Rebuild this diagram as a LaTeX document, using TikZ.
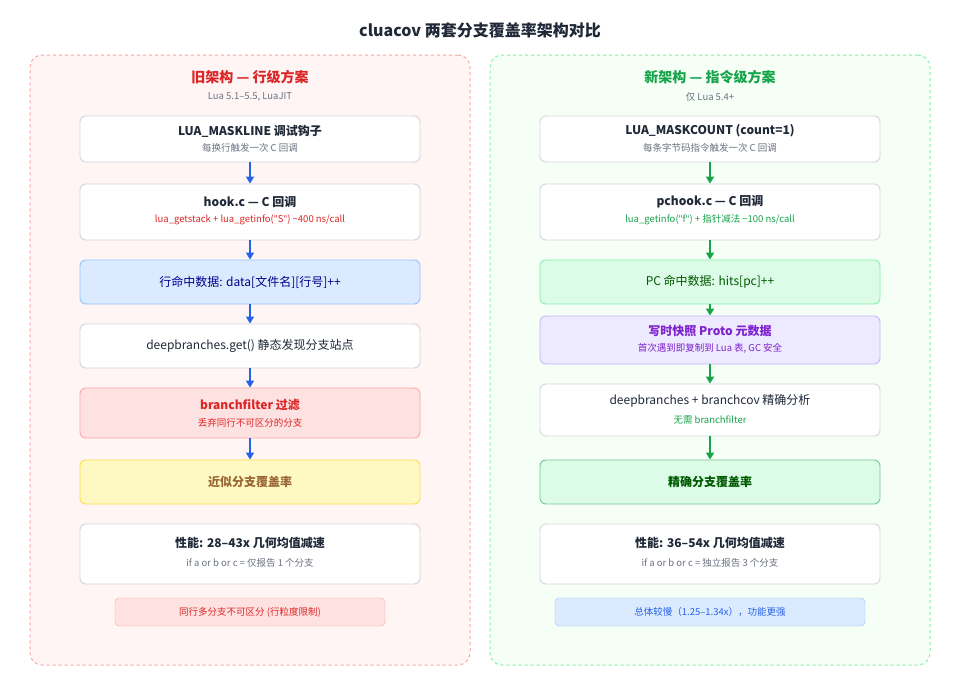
\documentclass[tikz,border=0pt]{standalone}
\usepackage{fontspec}
\setmainfont{Noto Sans CJK SC}
\newfontfamily\lat{Noto Sans}
\usetikzlibrary{arrows.meta}
\definecolor{redL}{HTML}{DC2626}
\definecolor{grnL}{HTML}{16A34A}
\definecolor{bluL}{HTML}{2563EB}
\definecolor{gry}{HTML}{6B7280}
\definecolor{txt}{HTML}{1F2937}
\definecolor{bluF}{HTML}{DBEAFE}\definecolor{bluD}{HTML}{93C5FD}
\definecolor{grnF}{HTML}{DCFCE7}\definecolor{grnD}{HTML}{86EFAC}
\definecolor{vioF}{HTML}{EDE9FE}\definecolor{vioD}{HTML}{C4B5FD}\definecolor{vioT}{HTML}{7E22CE}
\definecolor{redF}{HTML}{FEE2E2}\definecolor{redD}{HTML}{FCA5A5}
\definecolor{yelF}{HTML}{FEF9C3}\definecolor{yelD}{HTML}{FDE047}
\definecolor{bordG}{HTML}{D1D5DB}
\tikzset{
 box/.style={draw=#1,rounded corners=6pt,line width=0.9pt,minimum width=340pt,align=center,inner sep=0pt},
 box/.default={bordG},
 pan/.style={rounded corners=12pt,dashed,line width=1pt,minimum width=440pt,minimum height=610pt},
 arr/.style={-{Triangle[length=7pt,width=8pt]},line width=1.6pt,#1},
 t1/.style={font=\fontsize{12}{14}\selectfont\bfseries,text=txt},
 t2/.style={font=\fontsize{9.5}{12}\selectfont},
}
\begin{document}
\begin{tikzpicture}[x=1pt,y=-1pt]
\useasboundingbox[fill=white] (0,0) rectangle (960,680);
\node[font=\fontsize{16}{18}\selectfont\bfseries,text=txt] (title) at (480,30) {cluacov 两套分支覆盖率架构对比};
% panels
\node[pan,draw=redD,fill=red!4] (L) at (250,360) {};
\node[pan,draw=grnD,fill=green!4] (R) at (710,360) {};
\node[font=\fontsize{14}{16}\selectfont\bfseries,text=redL] (lt) at (250,77) {旧架构 — 行级方案};
\node[t2,text=gry] (ls) at (250,97) {Lua 5.1–5.5, LuaJIT};
\node[font=\fontsize{14}{16}\selectfont\bfseries,text=grnL] (rt) at (710,77) {新架构 — 指令级方案};
\node[t2,text=gry] (rs) at (710,97) {仅 Lua 5.4+};
% left
\node[box,fill=white,minimum height=46pt] (l1) at (250,139) {};
\node[t1] at (250,131) {LUA\_MASKLINE 调试钩子};
\node[t2,text=gry] at (250,148) {每换行触发一次 C 回调};
\node[box,fill=white,minimum height=56pt] (l2) at (250,212) {};
\node[t1] at (250,202) {hook.c — C 回调};
\node[t2,text=redL] at (250,220) {lua\_getstack + lua\_getinfo({\lat"}S{\lat"}) \textasciitilde400 ns/call};
\node[box=bluD,fill=bluF,minimum height=44pt,font=\fontsize{12}{14}\selectfont,text=blue!55!black] (l3) at (250,282) {行命中数据: data[文件名][行号]++};
\node[box,fill=white,minimum height=44pt,font=\fontsize{12}{14}\selectfont,text=txt] (l4) at (250,346) {deepbranches.get() 静态发现分支站点};
\node[box=redD,fill=redF,minimum height=50pt] (l5) at (250,413) {};
\node[t1,text=redL] at (250,405) {branchfilter 过滤};
\node[t2,text=redL] at (250,423) {丢弃同行不可区分的分支};
\node[box=yelD,fill=yelF,minimum height=44pt,t1,text=brown!80!black] (l6) at (250,482) {近似分支覆盖率};
\node[box,fill=white,minimum height=60pt] (l7) at (250,554) {};
\node[t1] at (250,543) {性能: 28–43x 几何均值减速};
\node[t2,text=gry] at (250,563) {if a or b or c = 仅报告 1 个分支};
\node[draw=redD,fill=redF,rounded corners=4pt,minimum width=270pt,minimum height=28pt,t2,text=redL] (ln) at (250,612) {同行多分支不可区分 (行粒度限制)};
\foreach \a/\b in {l1/l2,l2/l3,l3/l4,l4/l5,l5/l6} \draw[arr=bluL] (\a) -- (\b);
% right
\node[box,fill=white,minimum height=46pt] (r1) at (710,139) {};
\node[t1] at (710,131) {LUA\_MASKCOUNT (count=1)};
\node[t2,text=gry] at (710,148) {每条字节码指令触发一次 C 回调};
\node[box,fill=white,minimum height=56pt] (r2) at (710,212) {};
\node[t1] at (710,202) {pchook.c — C 回调};
\node[t2,text=grnL] at (710,220) {lua\_getinfo({\lat"}f{\lat"}) + 指针减法 \textasciitilde100 ns/call};
\node[box=grnD,fill=grnF,minimum height=44pt,font=\fontsize{12}{14}\selectfont,text=green!35!black] (r3) at (710,282) {PC 命中数据: hits[pc]++};
\node[box=vioD,fill=vioF,minimum height=48pt] (r4) at (710,340) {};
\node[t1,text=vioT] at (710,331) {写时快照 Proto 元数据};
\node[t2,text=vioT] at (710,348) {首次遇到即复制到 Lua 表, GC 安全};
\node[box,fill=white,minimum height=52pt] (r5) at (710,410) {};
\node[font=\fontsize{12}{14}\selectfont,text=txt] at (710,401) {deepbranches + branchcov 精确分析};
\node[t2,text=grnL] at (710,420) {无需 branchfilter};
\node[box=grnL!60,fill=grnF,minimum height=44pt,t1,text=green!35!black] (r6) at (710,482) {精确分支覆盖率};
\node[box,fill=white,minimum height=60pt] (r7) at (710,554) {};
\node[t1] at (710,543) {性能: 36–54x 几何均值减速};
\node[t2,text=gry] at (710,563) {if a or b or c = 独立报告 3 个分支};
\node[draw=bluD,fill=bluF,rounded corners=4pt,minimum width=310pt,minimum height=28pt,t2,text=bluL] (rn) at (710,612) {总体较慢（1.25–1.34x），功能更强};
\foreach \a/\b in {r1/r2,r2/r3,r3/r4,r4/r5,r5/r6} \draw[arr=grnL] (\a) -- (\b);
\end{tikzpicture}
\end{document}
